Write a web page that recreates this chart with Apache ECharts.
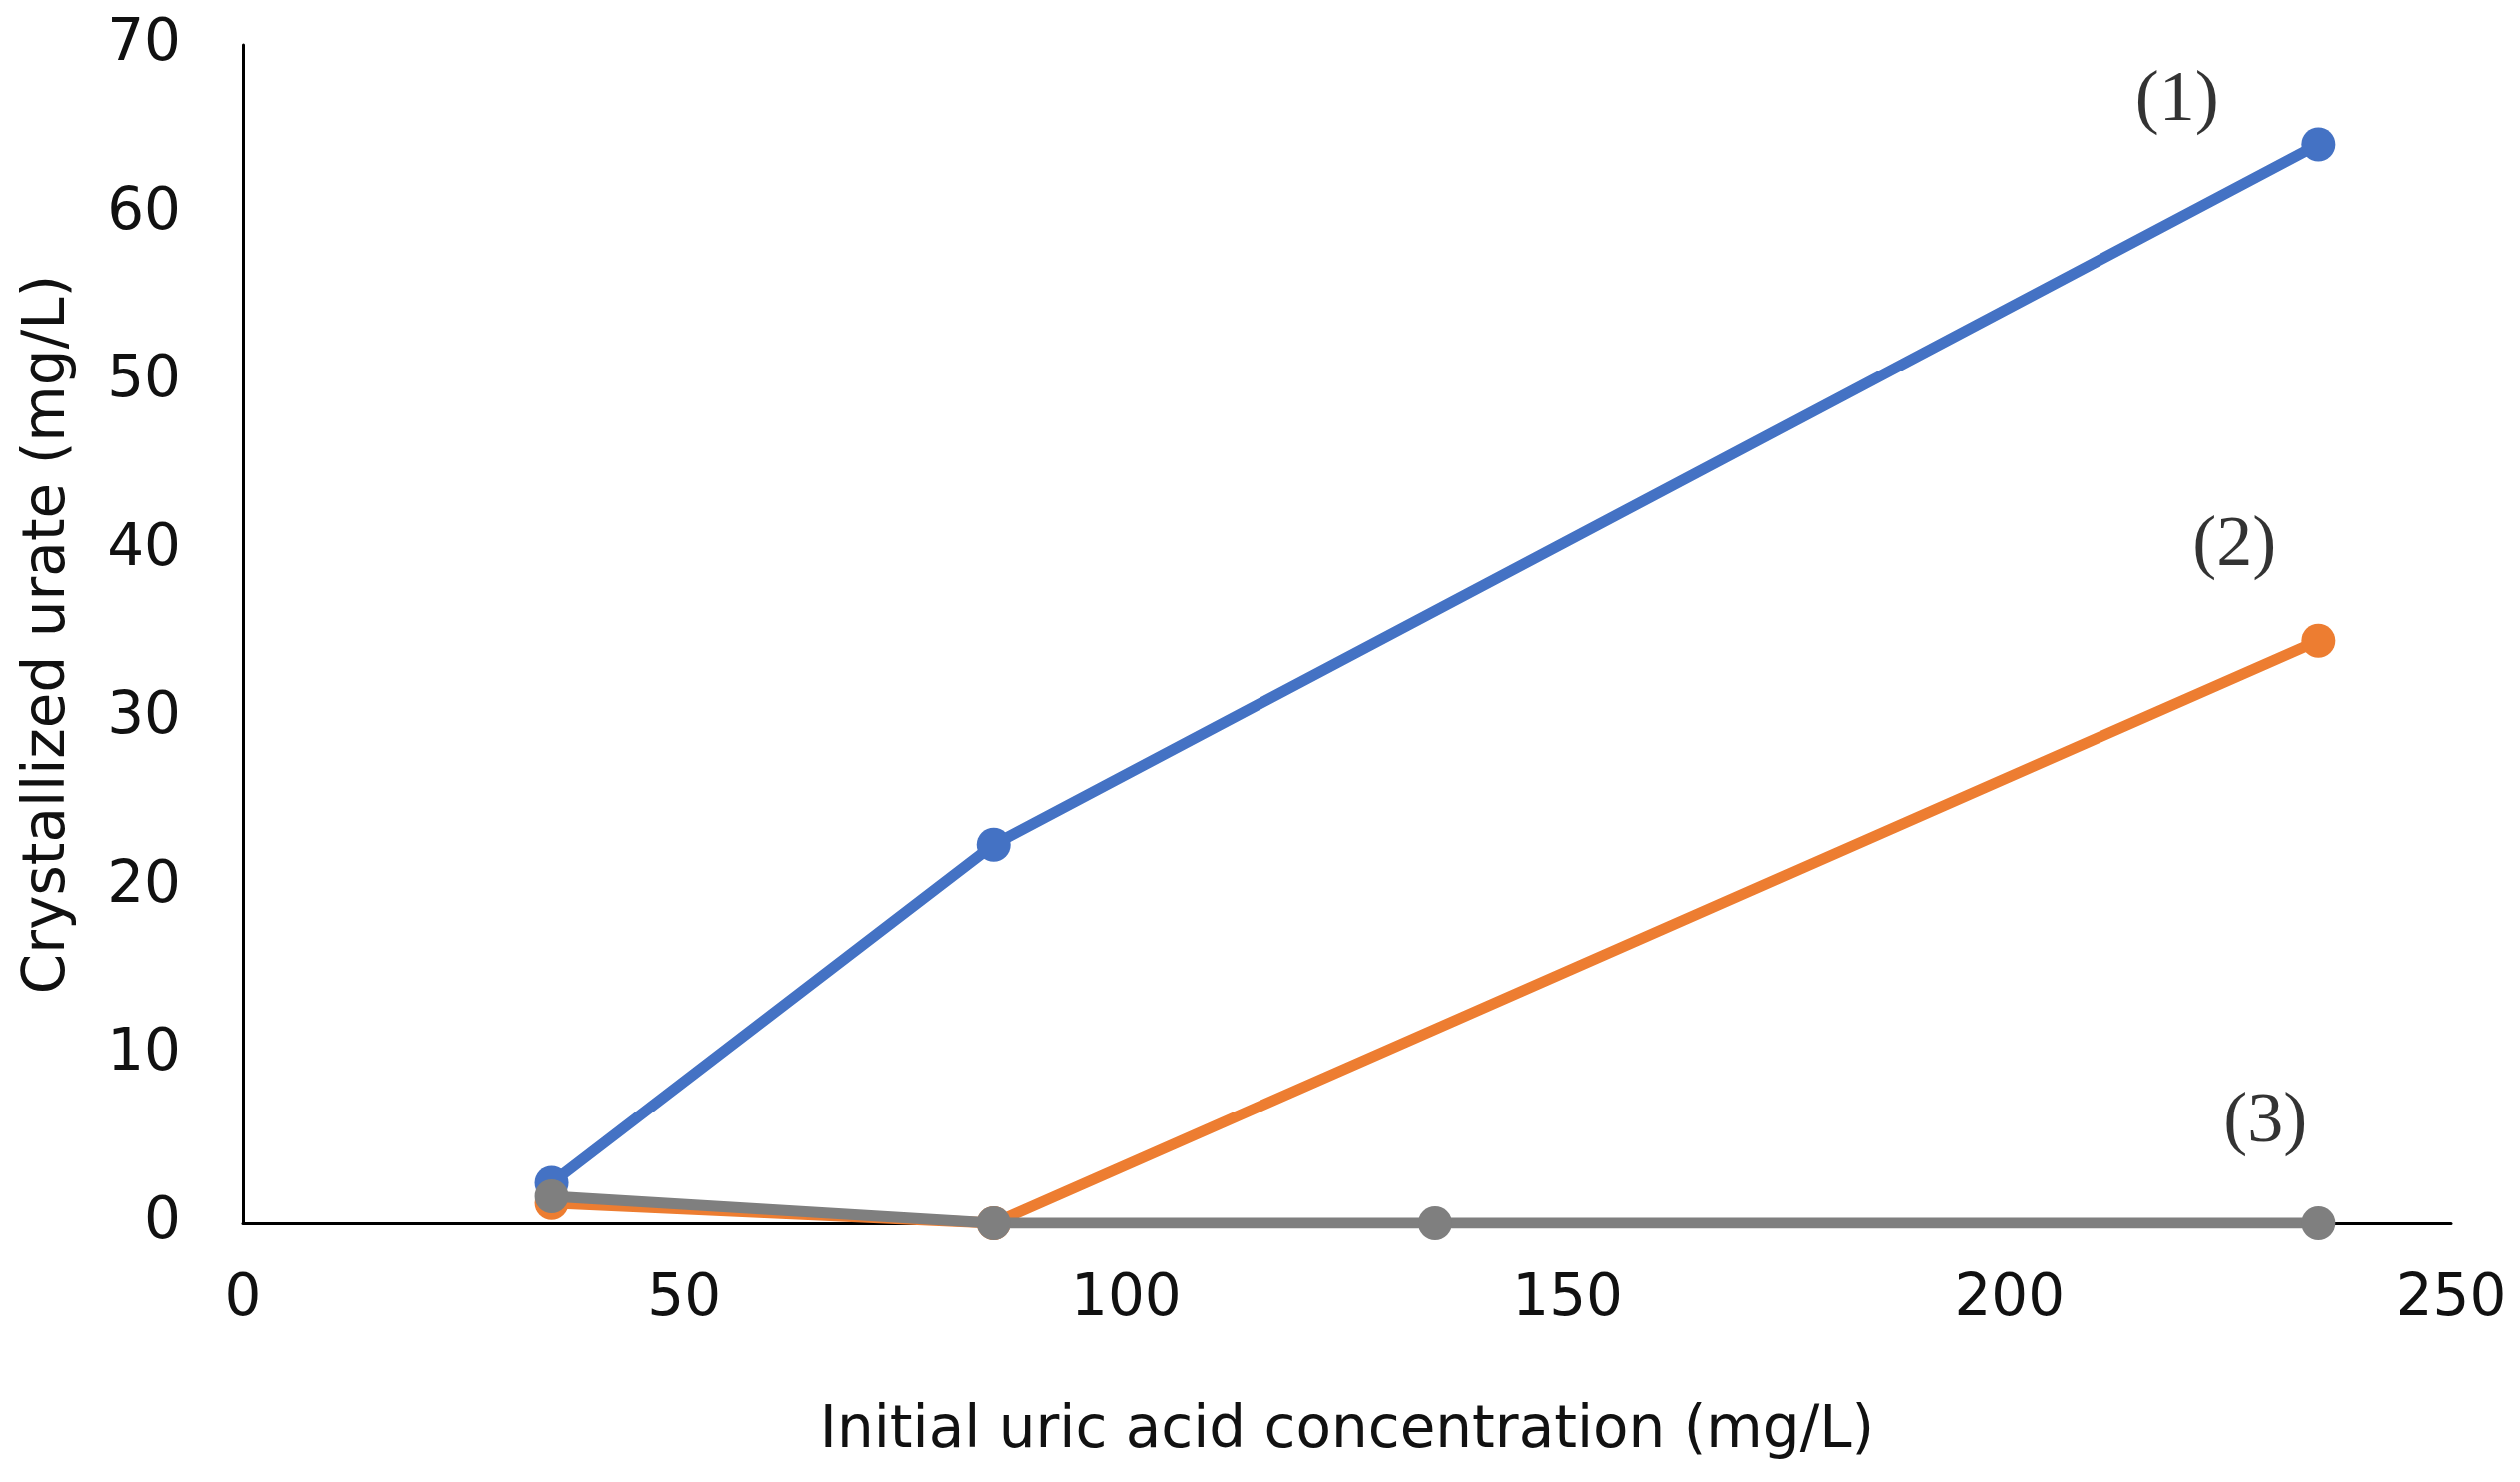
<!DOCTYPE html>
<html>
<head>
<meta charset="utf-8">
<script src="https://cdn.jsdelivr.net/npm/echarts@6/dist/echarts.min.js"></script>
<style>
  html, body { margin: 0; padding: 0; background: #fff; }
  #chart { width: 2523px; height: 1484px; }
</style>
</head>
<body>
<div id="chart"></div>
<script>
    'use strict';

    // initial uric acid concentration (mg/L)
    var xValues = [35, 85, 135, 235];

    // crystallized urate (mg/L), null where there is no point
    var series1 = [2.4, 22.5, null, 64.1];
    var series2 = [1.2, 0, null, 34.6];
    var series3 = [1.6, 0, 0, 0];

    var seriesNames = ['(1)', '(2)', '(3)'];
    var seriesColors = ['#4472C4', '#ED7D31', '#7F7F7F'];

    // where the curve labels sit, in data units
    var labelAnchors = [[219, 66.7], [225.5, 40.2], [229, 6.0]];

    var xTicks = { min: 0, max: 250, interval: 50 };
    var yTicks = { min: 0, max: 70, interval: 10 };

    function pairs(ys) {
        var out = [];
        for (var i = 0; i < xValues.length; i++) {
            if (ys[i] !== null) out.push([xValues[i], ys[i]]);
        }
        return out;
    }

    var allSeries = [series1, series2, series3].map(function(ys, i) {
        return {
            name: seriesNames[i],
            type: 'line',
            data: pairs(ys),
            symbol: 'circle',
            symbolSize: 34,
            color: seriesColors[i],
            lineStyle: { width: 11, color: seriesColors[i] },
            itemStyle: { color: seriesColors[i] },
            z: 2 + i,
            animation: false
        };
    });

    allSeries.push({
        type: 'scatter',
        data: labelAnchors.map(function(p, i) {
            return { value: p, label: { formatter: seriesNames[i] } };
        }),
        symbolSize: 0,
        label: {
            show: true,
            position: 'inside',
            fontFamily: 'Liberation Serif',
            fontSize: 72,
            color: '#000'
        },
        silent: true,
        animation: false
    });

    var axisFont = 'DejaVu Sans';

    var option = {
        backgroundColor: '#fff',
        grid: { left: 243, right: 69, top: 45, bottom: 259 },
        xAxis: {
            type: 'value',
            min: xTicks.min,
            max: xTicks.max,
            interval: xTicks.interval,
            name: 'Initial uric acid concentration (mg/L)',
            nameLocation: 'middle',
            nameGap: 180,
            nameTextStyle: { fontFamily: axisFont, fontSize: 58, color: '#111' },
            axisLine: { show: true, lineStyle: { color: '#000', width: 3 } },
            axisTick: { show: false },
            splitLine: { show: false },
            axisLabel: { fontFamily: axisFont, fontSize: 58, color: '#111', margin: 48 }
        },
        yAxis: {
            type: 'value',
            min: yTicks.min,
            max: yTicks.max,
            interval: yTicks.interval,
            name: 'Crystallized urate (mg/L)',
            nameLocation: 'middle',
            nameGap: 165,
            nameTextStyle: { fontFamily: axisFont, fontSize: 58, color: '#111' },
            axisLine: { show: true, lineStyle: { color: '#000', width: 3 } },
            axisTick: { show: false },
            splitLine: { show: false },
            axisLabel: { fontFamily: axisFont, fontSize: 58, color: '#111', margin: 62 }
        },
        series: allSeries
    };

    var chart = echarts.init(document.getElementById('chart'));
    chart.setOption(option);
</script>
</body>
</html>
